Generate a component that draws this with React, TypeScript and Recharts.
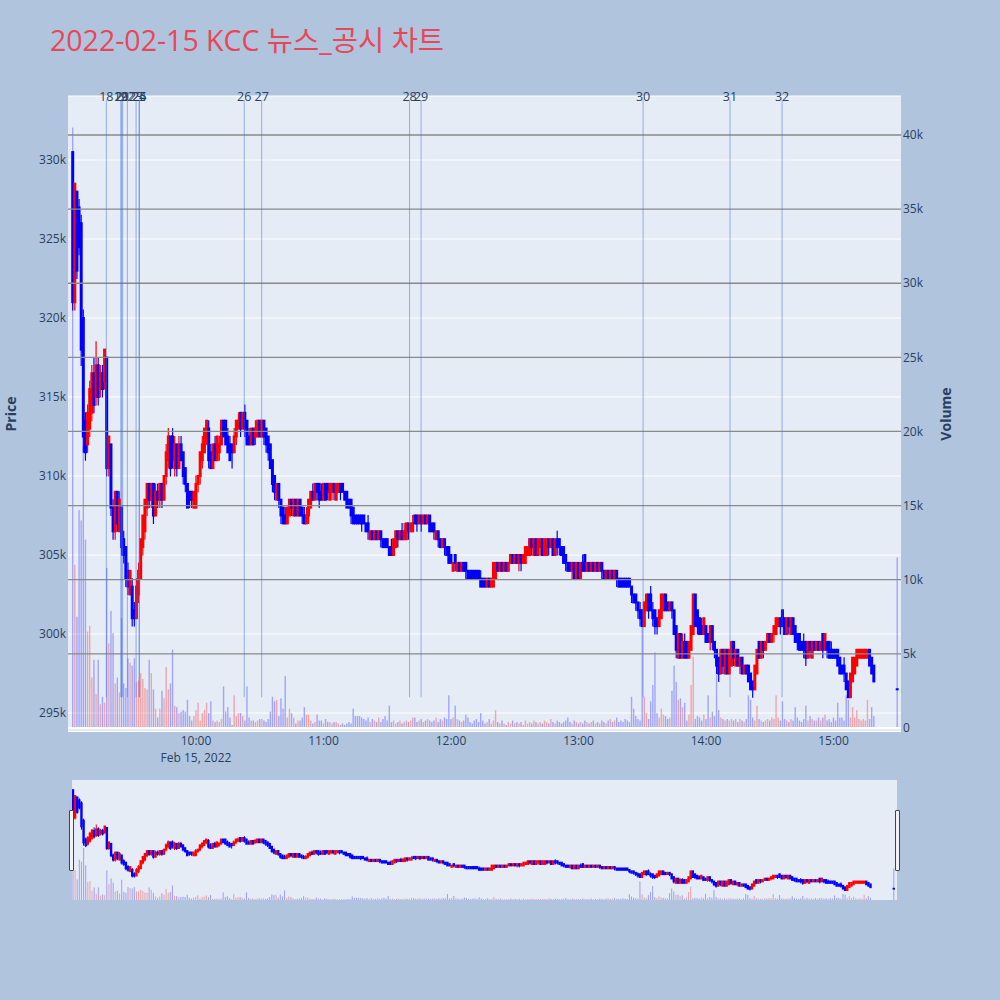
import { ComposedChart, Bar, XAxis, YAxis, CartesianGrid, ReferenceLine } from 'recharts';

// 1-minute candles from 09:02, prices in thousand won
const firstCandle = '09:02';

const priceOpen = [
  330.5, 321, 328, 327, 326, 320, 313.5, 312, 313, 314,
  316.5, 315, 317, 315.5, 316.5, 316, 317.5, 310.5, 312, 308,
  306.5, 309, 306.5, 308, 306, 305.5, 304, 302.5, 303, 301.5,
  301, 302.5, 303.5, 305.5, 306.5, 308, 309.5, 308.5, 309.5, 307.5,
  309, 308.5, 309.5, 308.5, 310, 311, 312.5, 312.5, 310.5, 312,
  310.5, 312, 311.5, 310.5, 309.5, 309, 309, 308, 308, 309.5,
  310, 311, 311.5, 312.5, 313, 311.5, 310.5, 312, 311, 311.5,
  312, 313.5, 313.5, 312.5, 312, 312, 311.5, 312.5, 313, 314,
  313, 314, 313.5, 312.5, 312, 313, 312.5, 312.5, 313.5, 312.5,
  313.5, 313, 312.5, 312, 311, 310, 308.5, 309.5, 308.5, 308,
  307.5, 307, 307.5, 308.5, 307.5, 308.5, 307.5, 308.5, 308, 307.5,
  307, 307.5, 308, 309, 308.5, 309.5, 309.5, 309, 308.5, 309.5,
  309.5, 308.5, 309, 309.5, 308.5, 309, 309.5, 309.5, 309, 309,
  308.5, 308.5, 308, 307.5, 307.5, 307.5, 307.5, 307.5, 307, 307,
  306, 306.5, 306, 306.5, 306, 306.5, 306, 306, 306, 305.5,
  305.5, 305, 305.5, 306.5, 306, 306.5, 306, 306, 307, 306.5,
  306.5, 307.5, 307.5, 307, 307.5, 307, 307.5, 307, 307.5, 307,
  307, 306, 306.5, 306, 305.5, 306, 305.5, 305.5, 305, 304,
  305, 304, 304.5, 304, 304.5, 304.5, 304, 304, 304, 304,
  304, 304, 303.5, 303.5, 303.5, 303, 303.5, 303, 303, 303.5,
  304.5, 304, 304.5, 304, 304.5, 304, 304.5, 305, 304.5, 305,
  304.5, 305, 304.5, 304.5, 305, 305, 306, 305, 306, 305,
  305.5, 306, 305, 305, 306, 305.5, 306, 305, 306, 306,
  305.5, 305.5, 305, 304.5, 304.5, 304, 304.5, 303.5, 304.5, 303.5,
  304.5, 305, 304, 304.5, 304, 304.5, 304, 304.5, 304, 304.5,
  304, 303.5, 304, 303.5, 304, 303.5, 304, 303.5, 303.5, 303.5,
  303.5, 303.5, 303.5, 303, 302.5, 302.5, 302, 301.5, 301.5, 300.5,
  301.5, 302.5, 302.5, 301.5, 301.5, 301, 300.5, 301, 301.5, 302.5,
  302, 301.5, 302, 301.5, 300.5, 298.5, 300, 298.5, 299.5, 299.5,
  298.5, 299, 300, 302.5, 301.5, 301, 300.5, 300, 300.5, 300,
  299.5, 300.5, 299.5, 299, 298.5, 297.5, 299, 297.5, 299, 297.5,
  298, 299.5, 298, 299, 298, 298.5, 297.5, 298, 298, 297.5,
  297, 296.5, 297.5, 299.5, 298.5, 299.5, 299, 299.5, 300, 299.5,
  300, 300, 300.5, 301, 301.5, 301, 300, 301, 300, 301,
  300.5, 300, 300, 299.5, 299.5, 299.5, 298.5, 299.5, 298.5, 299.5,
  299, 299.5, 299, 300, 299, 299.5, 299.5, 299, 299, 299,
  299, 298.5, 298, 298, 297.5, 297, 296, 297, 297.5, 298,
  298.5, 298.5, 298.5, 298.5, 298.5, 299, 298.5, 298,
];

const priceHigh = [
  330.5, 328.5, 328, 327.5, 326.5, 320.5, 314, 314.5, 316, 317,
  317.5, 318.5, 317.5, 317, 317, 318, 317.5, 312.5, 312, 308.5,
  309, 309, 309, 308, 306.5, 305.5, 304.5, 304, 303.5, 302,
  303.5, 304.5, 306, 307.5, 308.5, 309.5, 309.5, 309.5, 309.5, 309.5,
  309.5, 309.5, 309.5, 310, 312, 313, 312.5, 313, 312.5, 312,
  312.5, 312.5, 311.5, 310.5, 309.5, 309, 309, 309, 310, 310,
  311.5, 312.5, 313, 313.5, 313.5, 312, 312, 312.5, 312.5, 312.5,
  313.5, 313.5, 313.5, 313, 312.5, 312, 313, 313.5, 314, 314,
  314, 314.5, 313.5, 313, 313, 313, 313.5, 313.5, 313.5, 313.5,
  313.5, 313, 312.5, 312, 311, 310, 309.5, 309.5, 308.5, 308,
  308, 308, 308.5, 308.5, 308.5, 308.5, 308.5, 308.5, 308, 308,
  308, 308.5, 309, 309.5, 309.5, 309.5, 309.5, 309.5, 309.5, 309.5,
  309.5, 309.5, 309.5, 309.5, 309.5, 309.5, 309.5, 309.5, 309, 309,
  308.5, 308.5, 308, 307.5, 307.5, 307.5, 307.5, 307.5, 307, 307.5,
  306.5, 306.5, 306.5, 306.5, 306.5, 306.5, 306, 306, 306, 305.5,
  306, 306, 306.5, 306.5, 306.5, 307, 307, 307, 307, 307,
  307.5, 307.5, 307.5, 307.5, 307.5, 307.5, 307.5, 307.5, 307.5, 307,
  307, 306.5, 306.5, 306, 306, 306, 305.5, 305.5, 305, 304.5,
  305, 304.5, 304.5, 304.5, 304.5, 304.5, 304, 304, 304, 304,
  304, 304, 304, 303.5, 303.5, 303.5, 303.5, 303.5, 304.5, 304.5,
  304.5, 304.5, 304.5, 304.5, 304.5, 304.5, 305, 305, 305, 305,
  305, 305, 305, 305.5, 305.5, 306, 306, 306, 306, 306,
  306, 306, 306, 306, 306, 306, 306, 306, 306.5, 306,
  305.5, 305.5, 305, 304.5, 304.5, 304.5, 304.5, 304.5, 304.5, 304.5,
  305, 305, 304.5, 304.5, 304.5, 304.5, 304.5, 304.5, 304.5, 304.5,
  304, 304, 304, 304, 304, 304, 304, 303.5, 303.5, 303.5,
  303.5, 303.5, 303.5, 303, 302.5, 302.5, 302, 302, 301.5, 302,
  302.5, 302.5, 303, 302, 301.5, 301, 301.5, 302.5, 302.5, 302.5,
  302, 302, 302, 301.5, 300.5, 300, 300, 300, 300, 299.5,
  299.5, 300.5, 302.5, 302.5, 301.5, 301, 301, 301, 300.5, 300,
  300.5, 300.5, 299.5, 299, 298.5, 299, 299, 299, 299, 299,
  299.5, 299.5, 299, 299, 298.5, 298.5, 298, 298, 298, 297.5,
  297, 298, 299, 299.5, 299.5, 299.5, 299.5, 300, 300, 300,
  300.5, 301, 301, 301, 301.5, 301, 301, 301, 301, 301,
  300.5, 300, 300, 299.5, 300, 299.5, 299.5, 299.5, 299.5, 299.5,
  299.5, 299.5, 299.5, 300, 300, 299.5, 299.5, 299.5, 299, 299,
  299, 298.5, 298, 298.5, 297.5, 297, 297.5, 298.5, 298.5, 299,
  299, 299, 299, 299, 299, 299, 298.5, 298,
];

const priceLow = [
  320.5, 320.5, 322.5, 324, 317, 311.5, 311, 311.5, 312.5, 313.5,
  314, 314.5, 314.5, 315, 315, 315.5, 310, 310, 307.5, 306,
  306, 306.5, 306.5, 305, 304.5, 303, 302.5, 302.5, 300.5, 300.5,
  301, 302, 303.5, 305, 306, 307.5, 308, 308, 307, 307.5,
  308, 308, 308, 308.5, 309.5, 310.5, 310, 310.5, 310, 310,
  310.5, 311, 309.5, 309, 308, 308, 308, 308, 308, 309,
  309.5, 310.5, 311.5, 312, 310.5, 310.5, 310.5, 311, 311, 311,
  312, 312.5, 312, 311.5, 311, 310.5, 311.5, 312, 313, 312.5,
  313, 312.5, 312, 312, 312, 312, 312, 312.5, 312.5, 312.5,
  312, 311.5, 311, 310.5, 309, 308.5, 308.5, 308, 307, 307,
  307, 307, 307.5, 307.5, 307.5, 307.5, 307.5, 307.5, 307, 307,
  307, 307, 308, 308.5, 308.5, 308.5, 308, 308.5, 308.5, 308.5,
  308.5, 308.5, 308.5, 308.5, 308.5, 309, 308.5, 309, 308.5, 308,
  308, 307, 307, 307, 307, 307, 306.5, 307, 306.5, 306,
  306, 306, 306, 306, 306, 305.5, 305.5, 305.5, 305.5, 305,
  305, 305, 305.5, 305.5, 306, 306, 306, 306, 306, 306.5,
  306.5, 307, 306.5, 307, 306.5, 307, 307, 307, 306.5, 306.5,
  306, 306, 305.5, 305.5, 305.5, 305, 305, 304.5, 304.5, 304,
  304, 304, 304, 304, 304, 303.5, 303.5, 303.5, 303.5, 303.5,
  303.5, 303.5, 303, 303, 303, 303, 303, 303, 303, 303.5,
  304, 304, 304, 304, 304, 304, 304.5, 304.5, 304.5, 304.5,
  304, 304, 304.5, 304.5, 305, 305, 305, 305, 305, 305,
  305, 305, 305, 305, 305, 305.5, 305, 305, 305, 305,
  305, 304.5, 304, 304, 304, 303.5, 303.5, 303.5, 303.5, 303.5,
  304, 304, 304, 304, 304, 304, 304, 304, 304, 303.5,
  303.5, 303.5, 303.5, 303.5, 303.5, 303.5, 303, 303, 303, 303,
  303, 303, 303, 302, 302, 301.5, 301, 300.5, 300.5, 300.5,
  301.5, 301, 301.5, 300.5, 300, 300, 300.5, 301, 301.5, 301.5,
  301.5, 301.5, 301, 300, 298.5, 298.5, 298.5, 298.5, 298.5, 298.5,
  298.5, 299, 300, 300.5, 300, 300, 300, 300, 299.5, 299.5,
  299, 299, 298.5, 297.5, 297, 297.5, 297.5, 297.5, 297.5, 297.5,
  298, 298, 298, 298, 297.5, 297.5, 297.5, 297.5, 297, 296.5,
  296, 296.5, 297.5, 298.5, 298.5, 298.5, 299, 299.5, 299.5, 299.5,
  299.5, 300, 300.5, 300, 300.5, 300, 300, 300, 300, 300,
  299.5, 299, 299, 299, 298.5, 298, 298.5, 298.5, 298.5, 299,
  299, 299, 299, 298.5, 299, 298.5, 298.5, 298.5, 298.5, 298.5,
  298, 297.5, 297.5, 297, 296.5, 296, 296, 297, 297.5, 298,
  298.5, 298.5, 298.5, 298.5, 298.5, 298, 297.5, 297,
];

const priceClose = [
  321, 328.5, 323, 324.5, 318, 312.5, 311.5, 314, 315.5, 316.5,
  314.5, 317, 315, 316.5, 315.5, 318, 310.5, 312.5, 308, 306.5,
  309, 307, 308.5, 305.5, 305, 303.5, 303, 304, 301, 301,
  303, 304, 306, 307.5, 308.5, 309.5, 308.5, 309.5, 307.5, 309,
  308.5, 309.5, 308.5, 310, 311.5, 312.5, 310.5, 311, 312, 310.5,
  312, 311, 310, 309.5, 308, 308.5, 308.5, 309, 309.5, 310,
  311.5, 312, 313, 313.5, 311, 310.5, 312, 311, 312.5, 312,
  313.5, 312.5, 312, 311.5, 311, 311.5, 312.5, 313.5, 313.5, 313,
  314, 313, 312, 312, 313, 312, 313, 313.5, 312.5, 313.5,
  312.5, 312, 311.5, 310.5, 309.5, 309, 309.5, 308.5, 307.5, 307,
  307, 308, 308.5, 308, 308.5, 307.5, 308.5, 307.5, 307.5, 307,
  307.5, 308.5, 309, 308.5, 309.5, 309, 308.5, 308.5, 309.5, 308.5,
  309, 309.5, 309.5, 309, 309.5, 309.5, 309, 309, 308.5, 308,
  308, 307.5, 307, 307, 307, 307, 307, 307, 306.5, 306.5,
  306.5, 306, 306.5, 306, 306.5, 306, 305.5, 305.5, 305.5, 305,
  305, 306, 306.5, 306, 306.5, 306, 306.5, 307, 306.5, 307,
  307, 307, 307, 307.5, 307, 307.5, 307, 307.5, 306.5, 306.5,
  306.5, 306.5, 306, 305.5, 306, 305.5, 305, 304.5, 304.5, 304.5,
  304.5, 304.5, 304, 304.5, 304, 304, 303.5, 303.5, 303.5, 303.5,
  303.5, 303.5, 303, 303, 303, 303.5, 303, 303.5, 304.5, 304.5,
  304, 304.5, 304, 304.5, 304, 304.5, 305, 304.5, 305, 304.5,
  305, 304.5, 305, 305.5, 305.5, 306, 305.5, 306, 305, 306,
  306, 305, 306, 306, 305.5, 306, 305, 306, 305.5, 305.5,
  305, 304.5, 304.5, 304, 304, 304.5, 303.5, 304.5, 303.5, 304.5,
  304, 304, 304.5, 304, 304.5, 304, 304.5, 304, 304.5, 304,
  303.5, 304, 303.5, 304, 303.5, 304, 303.5, 303, 303, 303,
  303, 303, 303, 302.5, 302, 302, 301.5, 301, 300.5, 302,
  302.5, 301.5, 301.5, 301, 300.5, 300.5, 301.5, 302.5, 302.5, 301.5,
  301.5, 302, 301.5, 300, 299, 300, 298.5, 299.5, 298.5, 298.5,
  299.5, 300.5, 302.5, 300.5, 300.5, 300, 300, 301, 299.5, 299.5,
  300.5, 299.5, 299, 298, 297.5, 299, 298, 299, 297.5, 299,
  299.5, 298.5, 299, 298, 298.5, 297.5, 298, 297.5, 297, 296.5,
  296.5, 298, 299, 298.5, 299.5, 299, 299.5, 300, 299.5, 300,
  300.5, 301, 301, 300.5, 300.5, 300, 301, 300.5, 301, 300,
  299.5, 299.5, 299, 299, 299, 298.5, 299.5, 299, 299.5, 299,
  299.5, 299, 299.5, 299, 300, 299, 298.5, 298.5, 298.5, 298.5,
  298, 297.5, 297.5, 297.5, 296.5, 296, 297.5, 298.5, 298.5, 299,
  299, 299, 299, 299, 299, 298, 297.5, 297,
];

// traded volume per minute, thousand shares
const volumeK = [
  40.5, 11, 7.5, 14.7, 14, 19, 12.7, 6.5, 6.9, 3.4,
  4.6, 2.3, 4.6, 1.6, 2.1, 1.7, 10.8, 5.7, 7.9, 6.4,
  3, 3.4, 2.4, 7.4, 3, 2.7, 4.7, 4.4, 4.2, 4.7,
  3.1, 3.2, 3.7, 3.3, 2.7, 2.6, 4.6, 3.7, 2.6, 1.3,
  0.7, 1.3, 2.5, 2, 4.1, 2.6, 3, 5.3, 1.5, 1.4,
  1, 1.1, 1.2, 1.1, 1.9, 0.8, 0.5, 0.8, 1.2, 1.7,
  0.5, 1, 1.2, 1.7, 1, 1.8, 0.5, 0.4, 0.5, 0.4,
  0.6, 2.8, 1.1, 1.4, 0.7, 0.2, 2.2, 0.8, 1, 1,
  0.8, 0.5, 2.8, 0.7, 0.5, 0.5, 0.4, 0.5, 0.6, 0.6,
  0.5, 0.4, 0.6, 1.1, 2.1, 1.8, 1.9, 0.8, 2, 1.3,
  3.5, 0.7, 1.3, 1, 0.7, 0.3, 0.5, 0.5, 0.7, 1.4,
  0.9, 0.9, 0.5, 0.3, 0.4, 0.9, 0.5, 0.5, 0.3, 0.6,
  0.4, 0.4, 0.3, 0.4, 0.4, 0.3, 0.2, 0.3, 0.2, 0.3,
  0.4, 0.3, 1.3, 0.8, 0.8, 0.8, 0.7, 0.6, 0.5, 0.7,
  0.4, 0.6, 0.5, 0.4, 0.7, 0.4, 0.6, 0.8, 0.5, 1.5,
  0.4, 0.5, 0.3, 0.4, 0.5, 0.3, 0.4, 0.5, 0.4, 0.5,
  0.7, 0.7, 0.4, 0.5, 0.6, 0.4, 0.5, 0.6, 0.5, 0.4,
  0.5, 0.7, 0.4, 0.6, 0.5, 0.7, 0.6, 2.2, 0.6, 0.7,
  1.5, 0.6, 0.5, 0.4, 0.5, 0.9, 0.7, 0.4, 0.3, 0.5,
  0.6, 0.4, 1, 0.5, 0.3, 0.4, 0.6, 0.3, 0.5, 1.2,
  0.4, 0.3, 0.5, 0.3, 0.2, 0.4, 0.3, 0.5, 0.3, 0.4,
  0.3, 0.4, 0.2, 0.5, 0.3, 0.4, 0.3, 0.5, 0.4, 0.3,
  0.4, 0.3, 0.5, 0.4, 0.3, 0.6, 0.4, 0.3, 0.5, 0.4,
  0.3, 0.4, 0.5, 0.7, 0.4, 0.3, 0.5, 0.4, 0.3, 0.4,
  0.3, 0.5, 0.4, 0.3, 0.4, 0.5, 0.3, 0.4, 0.3, 0.5,
  0.4, 0.3, 0.5, 0.6, 0.4, 0.5, 0.7, 0.4, 0.5, 0.4,
  0.6, 0.5, 0.4, 2.1, 1.3, 0.8, 0.6, 0.5, 6.8, 2.1,
  1, 0.6, 1.8, 2.9, 5.1, 1, 0.7, 1.3, 0.9, 0.8,
  0.6, 0.7, 2.5, 4.2, 3.1, 1.9, 2, 1.4, 1.7, 0.5,
  0.9, 2.9, 4.8, 0.6, 0.8, 0.7, 0.5, 0.9, 0.6, 2.2,
  0.7, 1.1, 0.8, 3.6, 1.2, 0.7, 0.6, 0.5, 0.6, 0.5,
  0.6, 0.5, 0.6, 0.4, 0.6, 0.5, 0.4, 0.6, 2.2, 1.9,
  0.7, 0.5, 1.5, 0.6, 0.5, 0.4, 0.5, 0.6, 0.5, 0.7,
  0.6, 2.2, 0.7, 0.5, 1.8, 0.6, 0.5, 0.4, 0.6, 0.5,
  1.4, 0.7, 0.5, 0.4, 0.6, 1.5, 0.5, 0.8, 0.6, 0.5,
  0.5, 0.7, 0.5, 0.7, 0.9, 0.5, 0.6, 0.4, 0.7, 0.5,
  1.7, 0.7, 0.7, 0.5, 2.2, 1.9, 0.7, 1.4, 0.7, 1.2,
  0.6, 0.5, 0.6, 0.5, 1.9, 0.6, 1.4, 0.8,
];

// closing single-price auction
const auctionTime = '15:30';
const auctionPrice = 296.5;
const auctionVolume = 11.5;

// news / disclosure markers
const newsLabels = ['18', '19', '20', '21', '22', '23', '24', '25', '26', '27', '28', '29', '30', '31', '32'];
const newsTimes = [
  '09:17:48', '09:24:36', '09:25:00', '09:25:30', '09:27:42', '09:31:48', '09:33:12', '09:33:24',
  '10:22:42', '10:30:54', '11:40:30', '11:45:54', '13:30:24', '14:11:18', '14:35:48',
];

const timeTicks = ['10:00', '11:00', '12:00', '13:00', '14:00', '15:00'];
const priceTicks = [295, 300, 305, 310, 315, 320, 325, 330];
const volumeTicks = [0, 5, 10, 15, 20, 25, 30, 35, 40];

const toMinutes = (hms: string) => {
  const [h, m, s = '0'] = hms.split(':');
  return (Number(h) - 9) * 60 + Number(m) + Number(s) / 60;
};
const fmtTime = (v: number) => {
  const h = 9 + Math.floor(v / 60);
  const m = Math.round(v % 60);
  return `${h}:${String(m).padStart(2, '0')}`;
};

const candles = priceOpen.map((open, i) => ({
  t: toMinutes(firstCandle) + i,
  open,
  high: priceHigh[i],
  low: priceLow[i],
  close: priceClose[i],
  volume: volumeK[i],
}));
candles.push({
  t: toMinutes(auctionTime),
  open: auctionPrice,
  high: auctionPrice,
  low: auctionPrice,
  close: auctionPrice,
  volume: auctionVolume,
});

const UP = '#ff0000';
const DOWN = '#0000ff';
const TXT = '#2a3f5f';
const FONT = '"Open Sans", verdana, arial, "Noto Sans CJK KR", sans-serif';

// body drawn like a plotly box: fill plus a stroke that adds `pad` px on every side
const makeCandle = (bodyW: number, wickW: number, pad: number) => (props: any) => {
  const { x, y, width, height, payload } = props;
  if (x == null || y == null || !payload) return <g />;
  const { open, close, high, low } = payload;
  const color = close > open ? UP : DOWN;
  const cx = x + (width || 0) / 2;
  const top = Math.min(y, y + (height || 0));
  const h = Math.abs(height || 0);
  const span = high - low;
  const toY = (v: number) => (span > 0 ? top + ((high - v) / span) * h : top);
  const bTop = toY(Math.max(open, close)) - pad;
  const bH = toY(Math.min(open, close)) - toY(Math.max(open, close)) + pad * 2;
  return (
    <g>
      <line x1={cx} x2={cx} y1={top - pad / 2} y2={top + h + pad / 2} stroke={color} strokeWidth={wickW} />
      <rect x={cx - bodyW / 2} y={bTop} width={bodyW} height={bH} fill={color} />
    </g>
  );
};

const makeVolBar = (w: number) => (props: any) => {
  const { x, y, width, height, payload } = props;
  if (x == null || y == null || !payload) return <g />;
  const cx = x + (width || 0) / 2;
  const top = Math.min(y, y + (height || 0));
  return (
    <rect
      x={cx - w / 2}
      y={top}
      width={w}
      height={Math.abs(height || 0)}
      fill={payload.close > payload.open ? UP : DOWN}
      fillOpacity={0.3}
    />
  );
};

const TimeTick = ({ x, payload }: any) => (
  <g>
    <text x={x} y={745} textAnchor="middle" fill={TXT} fontSize={12} fontFamily={FONT}>
      {fmtTime(payload.value)}
    </text>
    {payload.value === toMinutes(timeTicks[0]) && (
      <text x={x} y={762} textAnchor="middle" fill={TXT} fontSize={12} fontFamily={FONT}>
        Feb 15, 2022
      </text>
    )}
  </g>
);

const mainCandle = makeCandle(3, 1.2, 1);
const mainVol = makeVolBar(1.4);
const sliderCandle = makeCandle(2.4, 1, 0.9);
const sliderVol = makeVolBar(1.1);

export default function App() {
  return (
    <div
      style={{
        position: 'fixed',
        left: 0,
        top: 0,
        width: 1000,
        height: 1000,
        background: '#b0c4de',
        fontFamily: FONT,
      }}
    >
      <svg width={1000} height={1000} style={{ position: 'absolute', left: 0, top: 0 }}>
        <text x={50} y={51} fontSize={28.5} fill="#e8475a" fontFamily={FONT}>
          2022-02-15 KCC 뉴스_공시 차트
        </text>
        <text
          x={10}
          y={414}
          transform="rotate(-90 10 414)"
          textAnchor="middle"
          dominantBaseline="central"
          fontSize={14}
          fontWeight="bold"
          fill={TXT}
          fontFamily={FONT}
        >
          Price
        </text>
        <text
          x={945}
          y={414}
          transform="rotate(-90 945 414)"
          textAnchor="middle"
          dominantBaseline="central"
          fontSize={14}
          fontWeight="bold"
          fill={TXT}
          fontFamily={FONT}
        >
          Volume
        </text>
      </svg>

      <div style={{ position: 'absolute', left: 0, top: 0 }}>
        <ComposedChart
          width={1000}
          height={780}
          data={candles}
          margin={{ top: 96, right: 39, bottom: 8.5, left: 8 }}
        >
          <XAxis
            xAxisId="t"
            dataKey="t"
            type="number"
            domain={[-0.24, 391.76]}
            allowDataOverflow
            ticks={timeTicks.map(toMinutes)}
            interval={0}
            tick={<TimeTick />}
            tickLine={false}
            axisLine={false}
            height={40}
          />
          <XAxis xAxisId="tv" dataKey="t" type="number" domain={[-0.24, 391.76]} allowDataOverflow hide />
          <YAxis
            yAxisId="price"
            orientation="left"
            type="number"
            domain={[293.83, 334.05]}
            allowDataOverflow
            ticks={priceTicks}
            interval={0}
            tickFormatter={(v: number) => `${v}k`}
            tick={{ fill: TXT, fontSize: 12, fontFamily: FONT }}
            tickLine={false}
            axisLine={false}
            tickSize={0}
            tickMargin={2}
            width={60}
          />
          <YAxis
            yAxisId="vol"
            orientation="right"
            type="number"
            domain={[-0.24, 42.63]}
            allowDataOverflow
            ticks={volumeTicks}
            interval={0}
            tickFormatter={(v: number) => (v === 0 ? '0' : `${v}k`)}
            tick={{ fill: TXT, fontSize: 12, fontFamily: FONT }}
            tickLine={false}
            axisLine={false}
            tickSize={0}
            tickMargin={2}
            width={60}
          />
          <CartesianGrid xAxisId="t" yAxisId="price" vertical={false} stroke="#ffffff" fill="#e5ecf6" />
          {volumeTicks.slice(1).map((v) => (
            <ReferenceLine key={`vg${v}`} xAxisId="t" yAxisId="vol" y={v} stroke="#8a8a8a" strokeWidth={1.3} />
          ))}
          <ReferenceLine xAxisId="t" yAxisId="vol" y={0} stroke="#ffffff" strokeWidth={2} />
          <Bar
            xAxisId="tv"
            yAxisId="vol"
            dataKey="volume"
            barSize={2}
            shape={mainVol}
            isAnimationActive={false}
          />
          {newsTimes.map((tm, i) => (
            <ReferenceLine
              key={`n${i}`}
              xAxisId="t"
              yAxisId="price"
              segment={[
                { x: toMinutes(tm), y: 333.8 },
                { x: toMinutes(tm), y: 296 },
              ]}
              stroke="#4169e1"
              strokeOpacity={0.5}
              strokeWidth={1}
              label={(p: any) => (
                <text
                  x={p.viewBox ? p.viewBox.x : 0}
                  y={101}
                  textAnchor="middle"
                  fontSize={12.5}
                  fill={TXT}
                  fontFamily={FONT}
                >
                  {newsLabels[i]}
                </text>
              )}
            />
          ))}
          <Bar
            xAxisId="t"
            yAxisId="price"
            dataKey={(d: any) => [d.low, d.high]}
            barSize={2}
            shape={mainCandle}
            isAnimationActive={false}
          />
        </ComposedChart>
      </div>

      <div
        style={{
          position: 'absolute',
          left: 72,
          top: 780,
          width: 825,
          height: 120,
          background: '#e5ecf6',
        }}
      >
        <ComposedChart width={825} height={120} data={candles} margin={{ top: 0, right: 0, bottom: 0, left: 0 }}>
          <XAxis xAxisId="s" dataKey="t" type="number" domain={[1.5, 391.5]} allowDataOverflow hide />
          <XAxis xAxisId="sv" dataKey="t" type="number" domain={[1.5, 391.5]} allowDataOverflow hide />
          <YAxis yAxisId="sp" type="number" domain={[292.6, 334]} allowDataOverflow hide />
          <YAxis yAxisId="svol" type="number" domain={[0, 43.8]} allowDataOverflow hide />
          <Bar
            xAxisId="sv"
            yAxisId="svol"
            dataKey="volume"
            barSize={2}
            shape={sliderVol}
            isAnimationActive={false}
          />
          <Bar
            xAxisId="s"
            yAxisId="sp"
            dataKey={(d: any) => [d.low, d.high]}
            barSize={2}
            shape={sliderCandle}
            isAnimationActive={false}
          />
        </ComposedChart>
      </div>

      <div
        style={{
          position: 'absolute',
          left: 69,
          top: 810,
          width: 3,
          height: 59,
          background: '#f2f2f2',
          border: '1px solid #444',
          borderRadius: 1,
        }}
      />
      <div
        style={{
          position: 'absolute',
          left: 895,
          top: 810,
          width: 3,
          height: 59,
          background: '#f2f2f2',
          border: '1px solid #444',
          borderRadius: 1,
        }}
      />
    </div>
  );
}
